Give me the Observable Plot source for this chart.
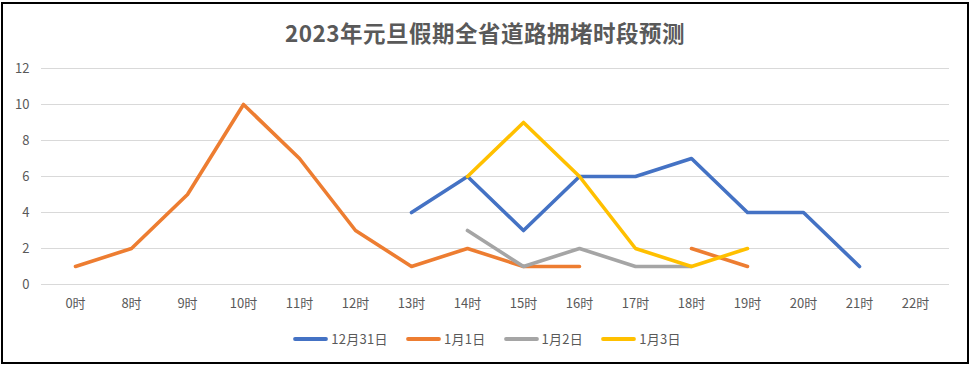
<!DOCTYPE html>
<html>
<head>
<meta charset="utf-8">
<script src="https://cdn.jsdelivr.net/npm/d3@7"></script>
<script src="https://cdn.jsdelivr.net/npm/@observablehq/plot@0.6"></script>
<style>
  html, body { margin: 0; padding: 0; background: #fff; }
  body { width: 970px; height: 366px; position: relative; overflow: hidden; font-family: "Noto Sans CJK SC", "Noto Sans", sans-serif; }
  #frame { position: absolute; left: 1px; top: 2px; width: 964px; height: 358px; border: 2px solid #000; }
  #title { position: absolute; left: 0; top: 16px; width: 970px; text-align: center; font-size: 22.5px; font-weight: bold; color: #595959; letter-spacing: 0.5px; }
  #chart { position: absolute; left: 0; top: 0; }
  #legend { position: absolute; left: 0; top: 329px; width: 974px; display: flex; justify-content: center; align-items: center; font-size: 13px; color: #595959; letter-spacing: 0.3px; }
  .item { display: flex; align-items: center; margin-right: 18px; }
  .item:last-child { margin-right: 0; }
  .item svg { margin-right: 3px; }
</style>
</head>
<body>
<div id="frame"></div>
<div id="chart"></div>
<div id="title"></div>
<div id="legend"></div>
<script>
const titleText = "2023年元旦假期全省道路拥堵时段预测";
const hours = ["0时","8时","9时","10时","11时","12时","13时","14时","15时","16时","17时","18时","19时","20时","21时","22时"];
const seriesNames = ["12月31日","1月1日","1月2日","1月3日"];
const seriesColors = ["#4472C4","#ED7D31","#A5A5A5","#FFC000"];
const dec31 = [null,null,null,null,null,null,4,6,3,6,6,7,4,4,1,null];
const jan1  = [1,2,5,10,7,3,1,2,1,1,null,2,1,null,null,null];
const jan2  = [null,null,null,null,null,null,null,3,1,2,1,1,null,null,null,null];
const jan3  = [null,null,null,null,null,null,null,6,9,6,2,1,2,null,null,null];
const yTicks = [0,2,4,6,8,10,12];

const allSeries = [dec31, jan1, jan2, jan3];
const tables = allSeries.map((vals, i) => hours.map((h, j) => ({hour: h, value: vals[j], series: seriesNames[i]})));

document.getElementById("title").textContent = titleText;

const chart = Plot.plot({
  width: 970,
  height: 320,
  marginLeft: 41,
  marginRight: 21,
  marginTop: 68,
  marginBottom: 36,
  style: {fontFamily: "'Noto Sans CJK SC', 'Noto Sans', sans-serif", fontSize: "13px", color: "#595959", background: "transparent"},
  x: {type: "point", domain: hours, padding: 0.5, label: null},
  y: {domain: [0, 12], label: null},
  marks: [
    Plot.ruleY(yTicks, {stroke: "#d9d9d9", strokeWidth: 1}),
    Plot.axisX({tickSize: 0, tickPadding: 14, label: null, fill: "#595959"}),
    Plot.axisY({ticks: yTicks, tickSize: 0, tickPadding: 12, label: null, fill: "#595959"}),
    ...tables.map((t, i) => Plot.line(t, {x: "hour", y: "value", stroke: seriesColors[i], strokeWidth: 3.6, strokeLinecap: "round", strokeLinejoin: "round"}))
  ]
});
document.getElementById("chart").appendChild(chart);

const legend = document.getElementById("legend");
seriesNames.forEach((name, i) => {
  const item = document.createElement("div");
  item.className = "item";
  item.innerHTML = `<svg width="35" height="10"><line x1="2" y1="5" x2="33" y2="5" stroke="${seriesColors[i]}" stroke-width="3.8" stroke-linecap="round"/></svg><span>${name}</span>`;
  legend.appendChild(item);
});
</script>
</body>
</html>
